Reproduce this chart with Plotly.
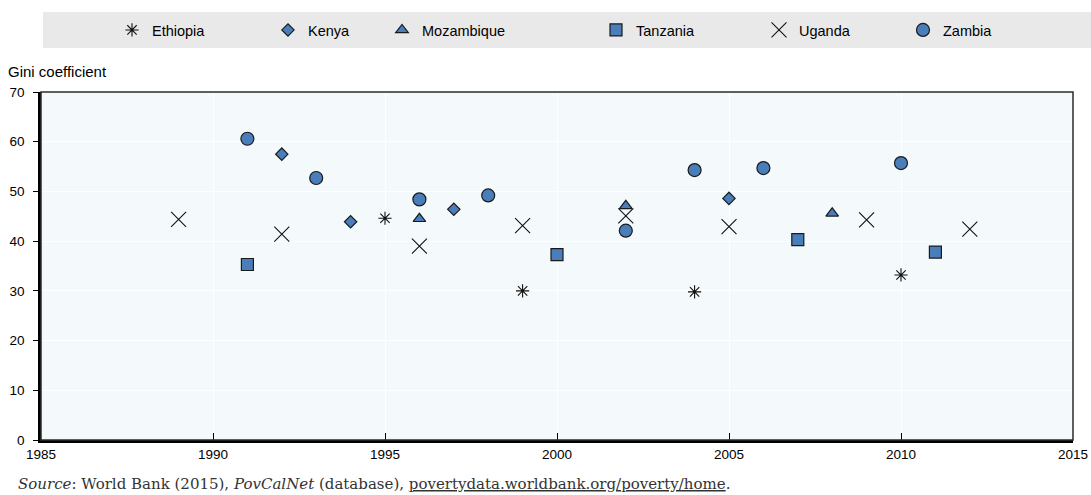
import plotly.graph_objects as go

# ---- data ----
ethiopia_years = [1995, 1999, 2004, 2010]
ethiopia_gini = [44.6, 30.0, 29.8, 33.2]

kenya_years = [1992, 1994, 1997, 2005]
kenya_gini = [57.5, 43.9, 46.4, 48.6]

mozambique_years = [1996, 2002, 2008]
mozambique_gini = [44.5, 47.1, 45.6]

tanzania_years = [1991, 2000, 2007, 2011]
tanzania_gini = [35.3, 37.3, 40.3, 37.8]

uganda_years = [1989, 1992, 1996, 1999, 2002, 2005, 2009, 2012]
uganda_gini = [44.4, 41.4, 39.0, 43.1, 45.1, 42.9, 44.3, 42.4]

zambia_years = [1991, 1993, 1996, 1998, 2002, 2004, 2006, 2010]
zambia_gini = [60.6, 52.7, 48.4, 49.2, 42.1, 54.3, 54.7, 55.7]

x_ticks = [1985, 1990, 1995, 2000, 2005, 2010, 2015]
y_ticks = [0, 10, 20, 30, 40, 50, 60, 70]

# ---- styling ----
W, H = 1091, 495
ML, MR, MT, MB = 41, 18, 92, 55
PW = W - ML - MR
PH = H - MT - MB
FILL = "#4a7ebb"
EDGE = "#1a1a1a"
FONT = "Liberation Sans, Arial, sans-serif"


def px_x(px):
    return (px - ML) / PW


def px_y(py):
    return (H - MB - py) / PH


series = [
    ("Ethiopia", ethiopia_years, ethiopia_gini, "asterisk-open", 11, "legend"),
    ("Kenya", kenya_years, kenya_gini, "diamond", 9.5, "legend2"),
    ("Mozambique", mozambique_years, mozambique_gini, "triangle-up", 11, "legend3"),
    ("Tanzania", tanzania_years, tanzania_gini, "square", 12, "legend4"),
    ("Uganda", uganda_years, uganda_gini, "x-thin-open", 15, "legend5"),
    ("Zambia", zambia_years, zambia_gini, "circle", 13, "legend6"),
]

fig = go.Figure()
for name, xs, ys, sym, size, leg in series:
    if sym.endswith("open"):
        marker = dict(symbol=sym, size=size, color="#111111",
                      line=dict(color="#111111", width=1.1))
    else:
        marker = dict(symbol=sym, size=size, color=FILL,
                      line=dict(color=EDGE, width=1.2))
    fig.add_trace(go.Scatter(x=xs, y=ys, mode="markers", name=name,
                             marker=marker, legend=leg))

# legend positions (symbol centre in px)
legend_sym_px = [132, 288, 402, 616, 779, 923]
legend_keys = ["legend", "legend2", "legend3", "legend4", "legend5", "legend6"]
legend_layout = {}
for key, sx in zip(legend_keys, legend_sym_px):
    legend_layout[key] = dict(
        x=px_x(sx - 20), xanchor="left", xref="paper",
        y=px_y(30), yanchor="middle", yref="paper",
        orientation="h", bgcolor="rgba(0,0,0,0)",
        font=dict(family=FONT, size=14.5, color="#000000"),
        itemwidth=30, borderwidth=0, itemsizing="trace",
    )

fig.update_layout(
    width=W, height=H,
    margin=dict(l=ML, r=MR, t=MT, b=MB, autoexpand=False),
    paper_bgcolor="#ffffff",
    plot_bgcolor="#f4fafb",
    showlegend=True,
    font=dict(family=FONT, size=13, color="#000000"),
    xaxis=dict(range=[1985, 2015], tickvals=x_ticks, ticks="inside",
               ticklen=7, tickcolor="#000000", tickwidth=1,
               showline=True, linecolor="#000000", linewidth=2.5,
               showgrid=True, gridcolor="#ffffff", gridwidth=1.2,
               zeroline=False, tickfont=dict(family=FONT, size=13.5)),
    yaxis=dict(range=[0, 70], tickvals=y_ticks, ticks="outside",
               ticklen=5, tickcolor="#000000", tickwidth=1,
               showline=True, linecolor="#000000", linewidth=2.5,
               showgrid=True, gridcolor="#ffffff", gridwidth=1.2,
               zeroline=False, tickfont=dict(family=FONT, size=13.5),
               ticklabelstandoff=6),
    **legend_layout,
)

# legend background band
fig.add_shape(type="rect", xref="paper", yref="paper",
              x0=px_x(43), x1=px_x(1091), y0=px_y(48), y1=px_y(12),
              fillcolor="#e9e9e9", line=dict(width=0), layer="below")
# thin frame on top/right
fig.add_shape(type="rect", xref="paper", yref="paper",
              x0=0, x1=1, y0=0, y1=1,
              line=dict(color="#2b2b2b", width=1.5), layer="above")

fig.add_annotation(text="Gini coefficient", xref="paper", yref="paper",
                   x=px_x(6), y=px_y(72), xanchor="left", yanchor="middle",
                   showarrow=False, font=dict(family=FONT, size=15))
fig.add_annotation(
    text="<i>Source</i>: World Bank (2015), <i>PovCalNet</i> (database), "
         "<u>povertydata.worldbank.org/poverty/home</u>.",
    xref="paper", yref="paper", x=px_x(16), y=px_y(484),
    xanchor="left", yanchor="middle", showarrow=False,
    font=dict(family="DejaVu Serif, Liberation Serif, serif", size=15,
              color="#333333"))

fig.write_html(
    "out.html",
    config={"displayModeBar": False},
    post_script="document.body.style.margin='0';"
                "document.body.style.overflow='hidden';",
)
